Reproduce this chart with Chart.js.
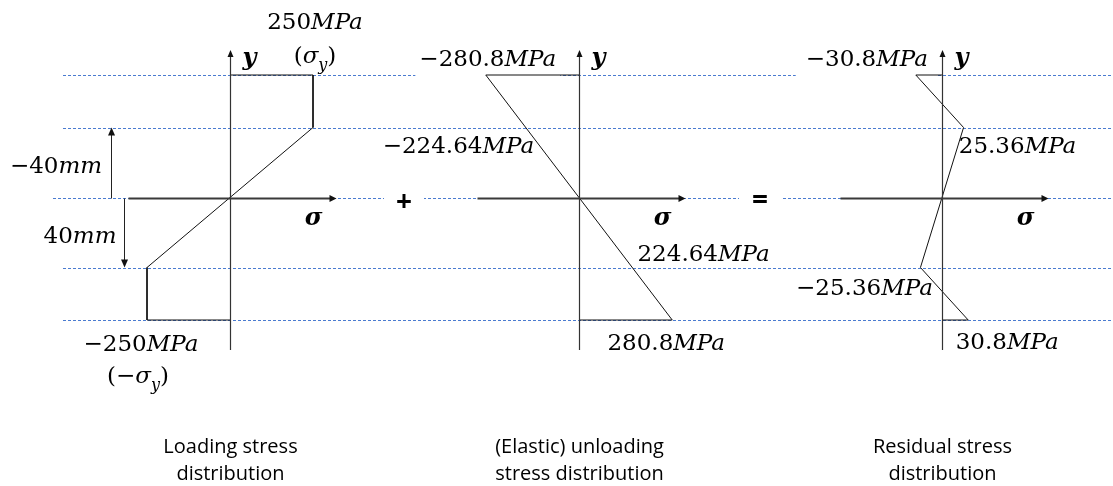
<!DOCTYPE html>
<html>
<head>
<meta charset="utf-8">
<script src="https://cdn.jsdelivr.net/npm/chart.js@4.4.1/dist/chart.umd.min.js"></script>
<style>
  html, body { margin: 0; padding: 0; background: #fff; }
  canvas { display: block; }
</style>
</head>
<body>
<canvas id="stressChart" width="1113" height="486"></canvas>
<script>
// depth levels (mm), top of section is negative; the edges are as drawn, only ±40 is labelled
const depth = [-70, -40, 0, 40, 70];

// stress at each depth level (MPa)
const loadingStress = [250, 250, 0, -250, -250];
const unloadingStress = [-280.8, -224.64, 0, 224.64, 280.8];
const residualStress = [-30.8, 25.36, 0, -25.36, 30.8];

const captions = [
    ['Loading stress', 'distribution'],
    ['(Elastic) unloading', 'stress distribution'],
    ['Residual stress', 'distribution']
];

const W = 1113, H = 486;
const MATH = '"DejaVu Serif", serif';
const SANS = '"Open Sans", sans-serif';

// where each panel's axes sit and how wide 1 MPa is drawn
const panels = [
    { id: 'x1', zero: 230, pxPerMPa: 0.332 },
    { id: 'x2', zero: 579, pxPerMPa: 0.332 },
    { id: 'x3', zero: 942, pxPerMPa: 0.85 }
];
const yZero = 197.5, pxPerMm = 1.75;

// stress profile: from the axis out to the first level, through the levels, back to the axis
function profile(stress, idx) {
    const pts = [{ x: 0, y: depth[0] }];
    idx.forEach(i => pts.push({ x: stress[i], y: depth[i] }));
    pts.push({ x: 0, y: depth[depth.length - 1] });
    return pts;
}

const num = v => (v < 0 ? '\u2212' : '') + Math.abs(v);
const mpa = v => [{ t: num(v) }, { t: 'MPa', it: true }];
const sigmaY = neg => [{ t: neg ? '(\u2212' : '(' }, { t: '\u03c3', it: true }, { t: 'y', it: true, sub: true }, { t: ')' }];

// text labels, anchored to a data point plus an offset
const labels = [
    { runs: mpa(loadingStress[0]), ax: 'x1', v: loadingStress[0], d: depth[0], dx: 2, dy: -54 },
    { runs: sigmaY(false), ax: 'x1', v: loadingStress[0], d: depth[0], dx: 2, dy: -20 },
    { runs: mpa(loadingStress[4]), ax: 'x1', v: loadingStress[4], d: depth[4], dx: -6, dy: 23 },
    { runs: sigmaY(true), ax: 'x1', v: loadingStress[4], d: depth[4], dx: -9, dy: 55 },
    { runs: [{ t: num(depth[1]) }, { t: 'mm', it: true }], ax: 'x1', v: 0, d: depth[1] / 2, dx: -174, dy: 2 },
    { runs: [{ t: num(depth[3]) }, { t: 'mm', it: true }], ax: 'x1', v: 0, d: depth[3] / 2, dx: -150, dy: 2 },

    { runs: mpa(unloadingStress[0]), ax: 'x2', v: unloadingStress[0], d: depth[0], dx: 2, dy: -17, bg: 4 },
    { runs: mpa(unloadingStress[1]), ax: 'x2', v: unloadingStress[1], d: depth[1], dx: -46, dy: 17.5 },
    { runs: mpa(unloadingStress[3]), ax: 'x2', v: unloadingStress[3], d: depth[3], dx: 50, dy: -14.5 },
    { runs: mpa(unloadingStress[4]), ax: 'x2', v: unloadingStress[4], d: depth[4], dx: -6, dy: 22 },
    { runs: [{ t: '+', font: SANS, b: true }], ax: 'x2', v: 0, d: 0, dx: -175, dy: 3, bg: 12, size: 28 },

    { runs: mpa(residualStress[0]), ax: 'x3', v: residualStress[0], d: depth[0], dx: -49, dy: -17, bg: 10 },
    { runs: mpa(residualStress[1]), ax: 'x3', v: residualStress[1], d: depth[1], dx: 54, dy: 17.5 },
    { runs: mpa(residualStress[3]), ax: 'x3', v: residualStress[3], d: depth[3], dx: -56, dy: 19.5 },
    { runs: mpa(residualStress[4]), ax: 'x3', v: residualStress[4], d: depth[4], dx: 39, dy: 21 },
    { runs: [{ t: '=', font: SANS, b: true }], ax: 'x3', v: 0, d: 0, dx: -182, dy: 1, bg: 13, size: 28 }
];

const FONT_SIZE = 23;

function runFont(r, size) {
    const s = r.sub ? Math.round(size * 0.7) : size;
    return (r.it ? 'italic ' : '') + (r.b ? 'bold ' : '') + s + 'px ' + (r.font || MATH);
}

function measure(ctx, runs, size) {
    let w = 0;
    runs.forEach(r => { ctx.font = runFont(r, size); r.w = ctx.measureText(r.t).width; w += r.w; });
    return w;
}

function drawRuns(ctx, runs, cx, cy, size) {
    const w = measure(ctx, runs, size);
    let x = cx - w / 2;
    const base = cy + size * 0.36;
    ctx.fillStyle = '#000';
    ctx.textBaseline = 'alphabetic';
    ctx.textAlign = 'left';
    runs.forEach(r => {
        ctx.font = runFont(r, size);
        ctx.fillText(r.t, x, r.sub ? base + size * 0.28 : base);
        x += r.w;
    });
}

function labelPos(chart, l) {
    return {
        x: chart.scales[l.ax].getPixelForValue(l.v) + l.dx,
        y: chart.scales.y.getPixelForValue(l.d) + l.dy
    };
}

function arrowHead(ctx, x, y, dir, len, half) {
    ctx.beginPath();
    if (dir === 'up') { ctx.moveTo(x, y); ctx.lineTo(x - half, y + len); ctx.lineTo(x + half, y + len); }
    if (dir === 'down') { ctx.moveTo(x, y); ctx.lineTo(x - half, y - len); ctx.lineTo(x + half, y - len); }
    if (dir === 'right') { ctx.moveTo(x, y); ctx.lineTo(x - len, y - half); ctx.lineTo(x - len, y + half); }
    ctx.closePath();
    ctx.fill();
}

// dashed level lines and the white boxes behind some labels
const backgroundPlugin = {
    id: 'levels',
    beforeDatasetsDraw(chart) {
        const ctx = chart.ctx;
        const ys = chart.scales.y;
        ctx.save();
        ctx.strokeStyle = '#4a7bd0';
        ctx.lineWidth = 1;
        ctx.setLineDash([3, 2]);
        depth.forEach(d => {
            const y = Math.round(ys.getPixelForValue(d)) + 0.5;
            ctx.beginPath();
            ctx.moveTo(d === 0 ? 53 : 63, y);
            ctx.lineTo(W, y);
            ctx.stroke();
        });
        ctx.setLineDash([]);
        ctx.fillStyle = '#fff';
        labels.filter(l => l.bg).forEach(l => {
            const p = labelPos(chart, l);
            const w = measure(ctx, l.runs, l.size || FONT_SIZE);
            ctx.fillRect(p.x - w / 2 - l.bg, p.y - 18, w + 2 * l.bg, 36);
        });
        ctx.restore();
    }
};

// axes with arrows, dimension arrows, labels and captions
const annotationPlugin = {
    id: 'annotations',
    afterDatasetsDraw(chart) {
        const ctx = chart.ctx;
        const ys = chart.scales.y;
        const y0 = Math.round(ys.getPixelForValue(0)) + 0.5;
        ctx.save();
        panels.forEach((p, i) => {
            const x0 = Math.round(chart.scales[p.id].getPixelForValue(0)) + 0.5;
            ctx.strokeStyle = '#333';
            ctx.fillStyle = '#111';
            ctx.lineWidth = 1.2;
            ctx.beginPath();
            ctx.moveTo(x0, 350);
            ctx.lineTo(x0, 54);
            ctx.stroke();
            arrowHead(ctx, x0, 50, 'up', 7, 3);

            ctx.lineWidth = 2;
            ctx.strokeStyle = '#3a3a3a';
            ctx.beginPath();
            ctx.moveTo(x0 - 102, y0);
            ctx.lineTo(x0 + 102, y0);
            ctx.stroke();
            arrowHead(ctx, x0 + 106, y0, 'right', 7, 3.5);

            drawRuns(ctx, [{ t: 'y', it: true, b: true }], x0 + 19, 56, 24);
            drawRuns(ctx, [{ t: '\u03c3', it: true, b: true }], x0 + 83, 216, 24);

            ctx.font = '20px ' + SANS;
            ctx.fillStyle = '#000';
            ctx.textAlign = 'center';
            ctx.textBaseline = 'alphabetic';
            ctx.fillText(captions[i][0], x0, 453);
            ctx.fillText(captions[i][1], x0, 480);
        });

        // dimension arrows for the ±40 mm elastic core
        const z = chart.scales.x1.getPixelForValue(0);
        const yUp = ys.getPixelForValue(depth[1]);
        const yDn = ys.getPixelForValue(depth[3]);
        ctx.strokeStyle = '#222';
        ctx.fillStyle = '#111';
        ctx.lineWidth = 1;
        const xa = Math.round(z - 119) + 0.5, xb = Math.round(z - 106) + 0.5;
        ctx.beginPath();
        ctx.moveTo(xa, y0); ctx.lineTo(xa, yUp + 6);
        ctx.moveTo(xb, y0); ctx.lineTo(xb, yDn - 6);
        ctx.stroke();
        arrowHead(ctx, xa, yUp, 'up', 8, 3.5);
        arrowHead(ctx, xb, yDn, 'down', 8, 3.5);

        labels.forEach(l => {
            const p = labelPos(chart, l);
            drawRuns(ctx, l.runs, p.x, p.y, l.size || FONT_SIZE);
        });
        ctx.restore();
    }
};

const scales = {
    y: { type: 'linear', display: false, reverse: true, min: -yZero / pxPerMm, max: (H - yZero) / pxPerMm }
};
panels.forEach(p => {
    scales[p.id] = {
        type: 'linear', position: 'bottom', display: false,
        min: -p.zero / p.pxPerMPa, max: (W - p.zero) / p.pxPerMPa
    };
});

const lineStyle = { showLine: true, borderColor: '#111', borderWidth: 1, pointRadius: 0, fill: false, tension: 0, yAxisID: 'y' };

new Chart(document.getElementById('stressChart').getContext('2d'), {
    type: 'scatter',
    data: {
        datasets: [
            { ...lineStyle, label: 'Loading', xAxisID: 'x1', data: profile(loadingStress, [0, 1, 2, 3, 4]) },
            { ...lineStyle, label: 'Unloading', xAxisID: 'x2', data: profile(unloadingStress, [0, 2, 4]) },
            { ...lineStyle, label: 'Residual', xAxisID: 'x3', data: profile(residualStress, [0, 1, 2, 3, 4]) }
        ]
    },
    options: {
        responsive: false,
        animation: false,
        layout: { padding: 0 },
        plugins: { legend: { display: false }, tooltip: { enabled: false } },
        scales: scales
    },
    plugins: [backgroundPlugin, annotationPlugin]
});
</script>
</body>
</html>
